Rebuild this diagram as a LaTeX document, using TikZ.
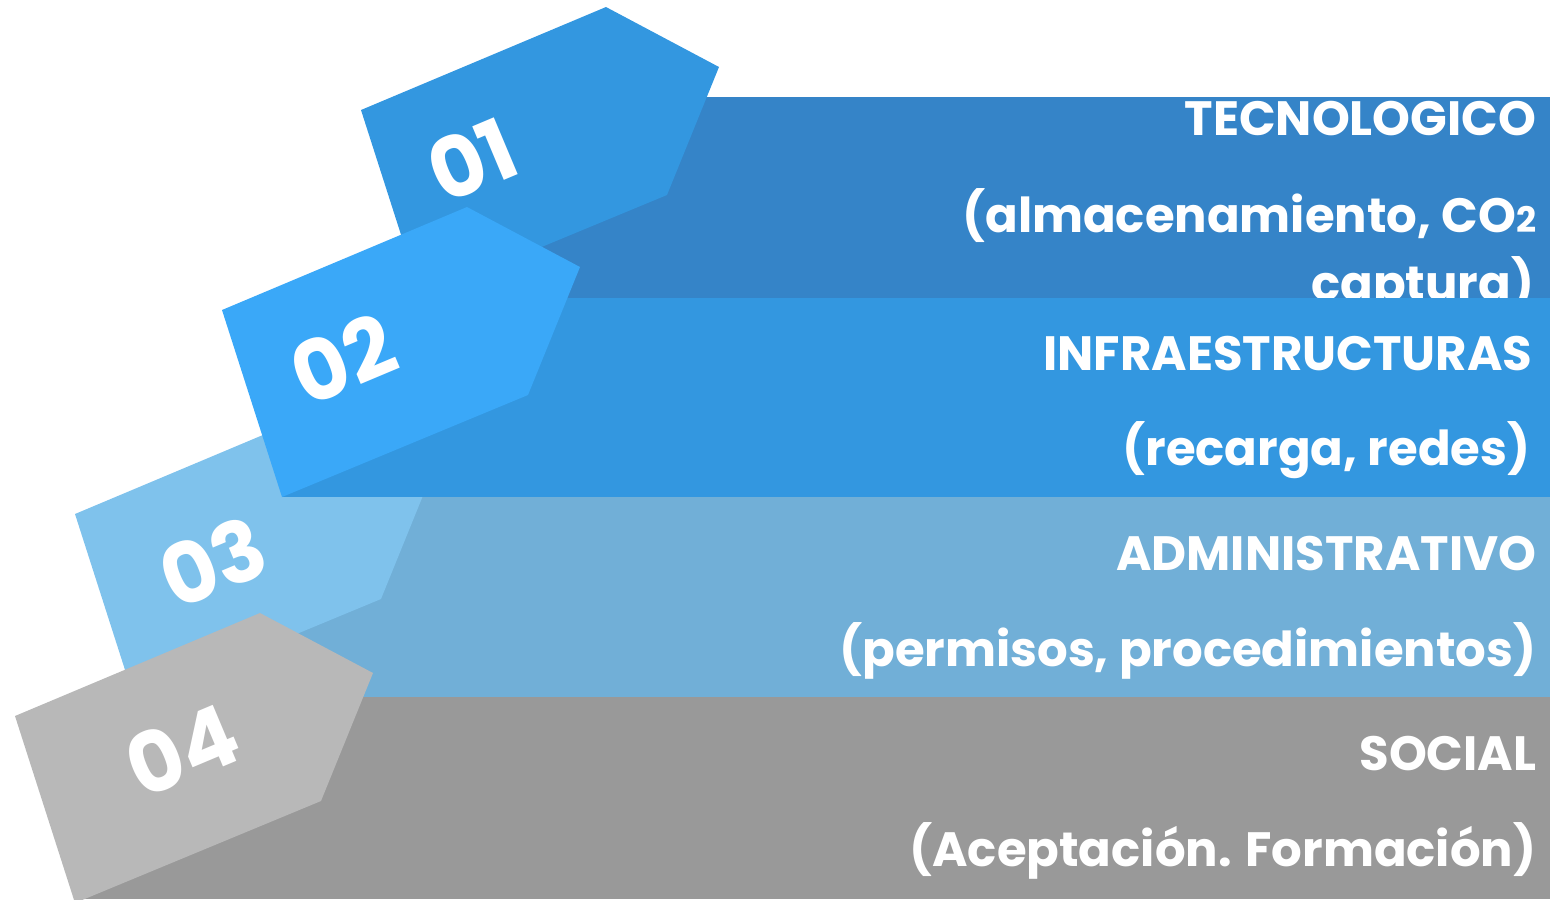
\documentclass[tikz,border=0pt]{standalone}
\usepackage{fontspec}
\setmainfont{Poppins}
\definecolor{bandone}{HTML}{3584C8}
\definecolor{bandtwo}{HTML}{3397E0}
\definecolor{tagtwo}{HTML}{3AA8F8}
\definecolor{bandthree}{HTML}{71AFD7}
\definecolor{tagthree}{HTML}{7FC2EC}
\definecolor{bandfour}{HTML}{999999}
\definecolor{tagfour}{HTML}{B8B8B8}
\tikzset{
  lbl/.style={text=white, anchor=base east, inner sep=0pt,
    font=\bfseries\fontsize{13.7}{16}\selectfont},
  num/.style={text=white, rotate=22.8, inner sep=0pt,
    font=\bfseries\fontsize{24}{28}\selectfont}
}
\begin{document}
\begin{tikzpicture}[x=0.01cm, y=-0.01cm]
\useasboundingbox (0,0) rectangle (1550,899);
%%band 1
\fill[bandone] (421,97) rectangle (1550,298);
\node[lbl] (t1) at (1537,135) {TECNOLOGICO};
\node[lbl] (d1) at (1537,232) {(almacenamiento, CO{\fontsize{10}{12}\selectfont 2}};
\node[lbl] (e1) at (1535,300) {captura)};
%tag 01
\fill[bandtwo] (361,110) -- ++(245,-103) -- ++(113,60) -- ++(-52,128) -- ++(-246,102) -- cycle;
\node[num] (n1) at (472,160) {01};
%%band 3
\fill[bandthree] (135,497) rectangle (1550,697);
\node[lbl] (t3) at (1537,570) {ADMINISTRATIVO};
\node[lbl] (d3) at (1537,666) {(permisos, procedimientos)};
%tag 03
\fill[tagthree] (75,514) -- ++(245,-103) -- ++(113,60) -- ++(-52,128) -- ++(-246,102) -- cycle;
\node[num] (n3) at (213,562) {03};
%%band 2
\fill[bandtwo] (282,298) rectangle (1550,497);
\node[lbl] (t2) at (1533,370) {INFRAESTRUCTURAS};
\node[lbl] (d2) at (1531,465) {(recarga, redes)};
%tag 02
\fill[tagtwo] (222,310) -- ++(245,-103) -- ++(113,60) -- ++(-52,128) -- ++(-246,102) -- cycle;
\node[num] (n2) at (343,359) {02};
%%band 4
\fill[bandfour] (75,697) rectangle (1550,899);
\node[lbl] (t4) at (1537,770) {SOCIAL};
\node[lbl] (d4) at (1537,866) {(Aceptación. Formación)};
%tag 04
\fill[tagfour] (15,716) -- ++(245,-103) -- ++(113,60) -- ++(-52,128) -- ++(-246,102) -- cycle;
\node[num] (n4) at (182,750) {04};
\end{tikzpicture}
\end{document}
